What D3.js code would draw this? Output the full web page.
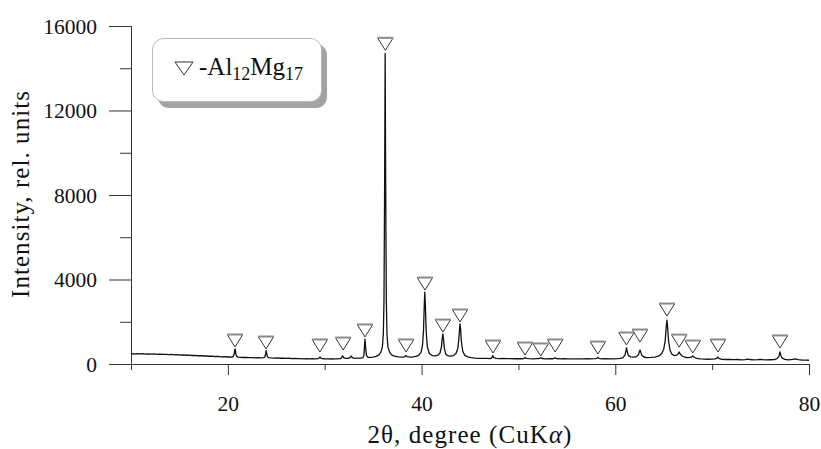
<!DOCTYPE html>
<html><head><meta charset="utf-8">
<script src="https://cdn.jsdelivr.net/npm/d3@7"></script>
<style>body{margin:0;background:#fff} svg{display:block}</style>
</head><body><svg id="c" width="821" height="449"></svg>
<script>
// XRD pattern: [2theta (deg), intensity (rel. units)]
const pattern = [
[10.0,500],[10.3,470],[10.6,495],[10.9,480],[11.2,488],[11.5,470],[11.8,482],[12.1,465],[12.4,476],[12.7,458],
[13.0,468],[13.3,452],[13.6,460],[13.9,445],[14.2,452],[14.5,436],[14.8,442],[15.1,425],[15.4,432],[15.7,414],
[16.0,420],[16.3,402],[16.6,408],[16.9,390],[17.2,396],[17.5,378],[17.8,384],[18.1,366],[18.4,370],[18.7,354],
[19.0,358],[19.3,342],[19.6,346],[19.9,332],[20.2,336],[20.45,330],
[20.55,360],[20.65,450],[20.72,690],[20.76,710],[20.82,480],[20.92,360],[21.05,325],
[21.3,318],[21.6,308],[21.9,314],[22.2,300],[22.5,306],[22.8,292],[23.1,298],[23.4,288],[23.7,300],
[23.82,330],[23.9,480],[23.95,630],[24.0,520],[24.08,350],[24.2,300],
[24.5,288],[24.8,280],[25.1,286],[25.4,272],[25.7,278],[26.0,266],[26.3,272],[26.6,258],[26.9,264],[27.2,252],
[27.5,258],[27.8,246],[28.1,252],[28.4,242],[28.7,248],[29.0,240],[29.3,250],
[29.45,300],[29.52,330],[29.6,280],[29.8,248],[30.1,238],[30.4,245],[30.7,236],[31.0,244],[31.3,238],[31.6,250],
[31.75,300],[31.85,390],[31.95,300],[32.15,262],[32.45,268],[32.65,310],[32.75,380],[32.85,300],[33.1,270],[33.4,275],
[33.7,282],[33.95,300],
[34.05,420],[34.1,800],[34.16,1180],[34.22,800],[34.3,420],[34.45,320],[34.7,310],[35.0,330],
[35.3,360],[35.6,430],[35.8,560],[35.95,800],[36.05,1400],[36.12,3000],[36.18,8000],[36.24,14700],
[36.3,8000],[36.36,3000],[36.43,1400],[36.53,800],[36.7,560],[36.9,430],[37.2,370],[37.6,340],[38.0,330],
[38.25,340],[38.38,400],[38.5,345],[38.8,330],[39.1,340],[39.4,360],[39.7,410],[39.95,560],
[40.1,900],[40.2,1600],[40.28,2800],[40.33,3400],[40.4,2700],[40.48,1500],[40.6,800],[40.8,500],[41.1,400],[41.4,380],
[41.7,420],[41.9,520],
[42.05,800],[42.13,1200],[42.2,1420],[42.27,1150],[42.35,750],[42.5,460],[42.75,380],[43.0,370],[43.3,400],[43.55,500],
[43.75,750],
[43.85,1200],[43.92,1650],[43.97,1900],[44.03,1650],[44.1,1100],[44.25,600],[44.45,420],[44.75,340],[45.1,300],[45.5,280],
[45.9,270],[46.3,262],[46.7,268],[47.1,258],
[47.25,290],[47.35,400],[47.45,300],[47.7,262],[48.0,255],[48.4,262],[48.8,250],[49.2,256],[49.6,248],[50.0,255],
[50.4,248],[50.6,270],[50.7,310],[50.8,268],[51.1,250],[51.5,244],[51.9,252],[52.15,258],
[52.3,300],[52.42,260],[52.8,246],[53.2,252],[53.5,248],[53.7,262],
[53.8,300],[53.9,260],[54.3,245],[54.7,250],[55.1,240],[55.5,246],[55.9,238],[56.3,244],[56.7,238],[57.1,250],
[57.5,242],[57.9,252],[58.1,265],
[58.22,320],[58.32,265],[58.6,245],[59.0,250],[59.4,240],[59.8,246],[60.2,250],[60.5,262],[60.8,300],[61.0,420],
[61.1,620],[61.16,760],[61.23,600],[61.35,400],[61.6,340],[61.9,330],[62.2,350],[62.4,450],
[62.5,600],[62.56,660],[62.63,560],[62.75,400],[63.0,320],[63.3,300],[63.7,310],[64.1,330],[64.5,380],[64.8,500],
[65.0,700],
[65.15,1100],[65.25,1700],[65.33,2080],[65.4,1750],[65.5,1100],[65.65,650],[65.85,460],[66.1,400],[66.35,420],
[66.5,480],[66.6,570],[66.7,470],[66.9,380],[67.2,320],[67.5,300],[67.75,310],[67.9,340],
[68.0,380],[68.1,330],[68.4,270],[68.8,240],[69.2,232],[69.6,226],[70.0,232],[70.3,240],[70.5,280],
[70.6,330],[70.7,270],[71.0,222],[71.4,212],[71.8,218],[72.2,205],[72.6,212],[73.0,200],[73.4,208],[73.7,228],
[73.9,212],[74.3,198],[74.7,204],[75.0,222],[75.2,205],[75.6,195],[76.0,202],[76.4,208],[76.7,250],[76.9,370],
[77.0,570],[77.08,430],[77.2,290],[77.5,220],[77.9,198],[78.3,216],[78.6,245],[78.9,205],[79.3,188],[79.7,182],
[80.0,178]
];

// Al12Mg17 reflections marked with open triangles (apex position)
const markerAngle =     [20.74,23.94,29.5,31.9,34.16,36.26,38.4,40.35,42.2,43.97,47.37,50.68,52.3,53.8,58.2,61.15,62.55,65.34,66.6,68.0,70.6,77.0];
const markerIntensity = [805,  710,  570, 660, 1280, 14850,570, 3500, 1510,1990, 520,  425,  380, 570, 470, 900,  1040, 2270, 800, 520, 570, 760];

const xMajorTicks = [20,40,60,80];
const xMinorTicks = [10,30,50,70];
const yMajorTicks = [0,4000,8000,12000,16000];
const yMinorTicks = [2000,6000,10000,14000];
const xTitle = "2θ, degree (CuK";
const xTitleGreek = "α";
const yTitle = "Intensity, rel. units";
const legendParts = ["-Al","12","Mg","17"];

const FONT = "'Liberation Serif', 'Times New Roman', serif";
const svg = d3.select("#c");
const x = d3.scaleLinear().domain([10,80]).range([131,809]);
const y = d3.scaleLinear().domain([0,16000]).range([364,26]);
const axisColor = "#333";

// y axis: minor then major
const gyMinor = svg.append("g").attr("transform","translate(131,0)")
  .call(d3.axisLeft(y).tickValues(yMinorTicks).tickSize(11).tickSizeOuter(0).tickFormat(""));
const gy = svg.append("g").attr("transform","translate(131,0)")
  .call(d3.axisLeft(y).tickValues(yMajorTicks).tickSize(22).tickSizeOuter(0).tickPadding(12).tickFormat(d3.format("d")));
// x axis
const gxMinor = svg.append("g").attr("transform","translate(0,364)")
  .call(d3.axisBottom(x).tickValues(xMinorTicks).tickSize(6).tickSizeOuter(0).tickFormat(""));
const gx = svg.append("g").attr("transform","translate(0,364)")
  .call(d3.axisBottom(x).tickValues(xMajorTicks).tickSize(11).tickSizeOuter(0).tickFormat(d3.format("d")));

[gyMinor,gy,gxMinor,gx].forEach(g=>{
  g.selectAll("path, line").attr("stroke",axisColor).attr("stroke-width",1);
  g.selectAll("text").attr("fill","#111").style("font-family",FONT).style("font-size","21.5px");
});
gx.selectAll("text").attr("y",47).attr("dy",null);
gy.selectAll("text").attr("dy","0.34em");

// data line
const line = d3.line().x(d=>x(d[0])).y(d=>y(d[1]));
svg.append("path").datum(pattern).attr("d",line)
  .attr("fill","none").attr("stroke","#111").attr("stroke-width",1.3).attr("stroke-linejoin","round");

// markers
const markers = markerAngle.map((a,i)=>({a, v:markerIntensity[i]}));
const mg = svg.append("g");
const tw = 7.5, th = 12;
mg.selectAll("path.side").data(markers).join("path")
  .attr("d",d=>{const cx=x(d.a), cy=y(d.v); return `M${cx-tw},${cy-th}L${cx},${cy}L${cx+tw},${cy-th}`;})
  .attr("fill","none").attr("stroke","#333").attr("stroke-width",1);
mg.selectAll("path.top").data(markers).join("path")
  .attr("d",d=>{const cx=x(d.a), cy=y(d.v); return `M${cx-tw-0.5},${cy-th-0.5}L${cx+tw+0.5},${cy-th-0.5}`;})
  .attr("fill","none").attr("stroke","#8a8a8a").attr("stroke-width",2);

// legend
const lg = svg.append("g");
lg.append("rect").attr("x",158).attr("y",44).attr("width",169).attr("height",64).attr("rx",11)
  .attr("fill","#a3a3a3");
lg.append("rect").attr("x",152.5).attr("y",38.5).attr("width",169).attr("height",63).attr("rx",11)
  .attr("fill","#fff").attr("stroke","#b8b8b8").attr("stroke-width",1);
lg.append("path").attr("d","M175,62L193,62L184,75Z").attr("fill","none").attr("stroke","#333").attr("stroke-width",1);
const lt = lg.append("text").attr("x",199).attr("y",75).style("font-family",FONT).style("font-size","25px").attr("fill","#111");
lt.append("tspan").text(legendParts[0]);
lt.append("tspan").attr("dy",5).style("font-size","18px").text(legendParts[1]);
lt.append("tspan").attr("dy",-5).text(legendParts[2]);
lt.append("tspan").attr("dy",5).style("font-size","18px").text(legendParts[3]);

// titles
function fit(sel, target){
  const n = sel.text().length;
  const len = sel.node().getComputedTextLength();
  const ls = (target - len)/(n);
  sel.style("letter-spacing", ls+"px");
}
const xt = svg.append("text").attr("x",470).attr("y",443).attr("text-anchor","middle")
  .style("font-family",FONT).style("font-size","25px").attr("fill","#111");
xt.append("tspan").text(xTitle);
xt.append("tspan").style("font-style","italic").text(xTitleGreek);
xt.append("tspan").text(")");
fit(xt, 205);
const yt = svg.append("text").attr("transform","translate(29,194) rotate(-90)").attr("text-anchor","middle")
  .style("font-family",FONT).style("font-size","25px").attr("fill","#111").text(yTitle);
fit(yt, 208);
</script></body></html>
